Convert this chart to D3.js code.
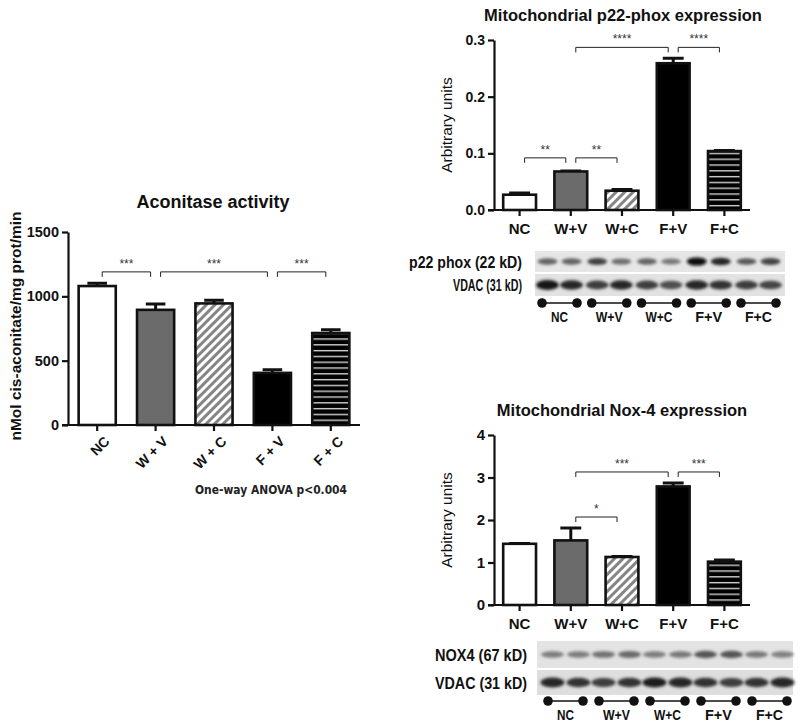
<!DOCTYPE html>
<html>
<head>
<meta charset="utf-8">
<script src="https://cdn.jsdelivr.net/npm/d3@7"></script>
<style>
  body { margin: 0; background: #fff; }
  text { font-family: "Liberation Sans", Arial, sans-serif; fill: #111; }
  .axis path, .axis line { stroke: #111; stroke-width: 2.2px; }
  .axis text { font-weight: bold; font-size: 14px; }
  .bar { stroke: #111; stroke-width: 2.6px; }
  .err { stroke: #111; stroke-width: 3px; fill: none; }
  .bracket { stroke: #222; stroke-width: 1px; fill: none; }
  .stars { font-size: 12px; fill: #333; text-anchor: middle; }
  .title { font-weight: bold; text-anchor: middle; }
</style>
</head>
<body>
<div class="diagram"></div>
<script>
var width = 802, height = 726;

// ---- data ----
var groups = ["NC", "W+V", "W+C", "F+V", "F+C"];
var aconitaseLabels = ["NC", "W + V", "W + C", "F + V", "F + C"];
var aconitaseMean = [1080, 895, 945, 405, 715];
var aconitaseErr = [22, 45, 25, 25, 25];
var aconitaseTicks = [0, 500, 1000, 1500];
var aconitaseSig = [[0, 1, "***", 1190], [1, 3, "***", 1190], [3, 4, "***", 1190]];

var p22Mean = [0.027, 0.068, 0.034, 0.259, 0.104];
var p22Err = [0.003, 0.001, 0.002, 0.009, 0.001];
var p22Ticks = [0, 0.1, 0.2, 0.3];
var p22Sig = [[0, 1, "**", 0.092], [1, 2, "**", 0.092], [1, 3, "****", 0.287], [3, 4, "****", 0.287]];

var nox4Mean = [1.44, 1.52, 1.13, 2.79, 1.02];
var nox4Err = [0.01, 0.29, 0.01, 0.08, 0.04];
var nox4Ticks = [0, 1, 2, 3, 4];
var nox4Sig = [[1, 2, "*", 2.07], [1, 3, "***", 3.13], [3, 4, "***", 3.13]];

// western blot band intensities, 2 lanes per group
var p22Bands = [0.55, 0.55, 0.72, 0.5, 0.55, 0.45, 1.0, 0.85, 0.6, 0.7];
var vdacBands1 = [0.95, 0.85, 0.75, 0.85, 0.75, 0.65, 0.85, 0.8, 0.75, 0.7];
var nox4Bands = [0.42, 0.42, 0.48, 0.52, 0.42, 0.45, 0.62, 0.62, 0.45, 0.4];
var vdacBands2 = [0.85, 0.8, 0.75, 0.8, 0.9, 0.85, 0.8, 0.75, 0.8, 0.85];

var svg = d3.select('.diagram')
  .append('svg')
  .attr('width', width)
  .attr('height', height);

svg.append('rect').attr('width', width).attr('height', height).attr('fill', '#fff');

var defs = svg.append('defs');

var diag = defs.append('pattern')
  .attr('id', 'diag')
  .attr('patternUnits', 'userSpaceOnUse')
  .attr('width', 6).attr('height', 6)
  .attr('patternTransform', 'rotate(45)');
diag.append('rect').attr('width', 6).attr('height', 6).attr('fill', '#fff');
diag.append('rect').attr('width', 3).attr('height', 6).attr('fill', '#858585');

var horiz = defs.append('pattern')
  .attr('id', 'horiz')
  .attr('patternUnits', 'userSpaceOnUse')
  .attr('width', 8).attr('height', 5.8);
horiz.append('rect').attr('width', 8).attr('height', 5.8).attr('fill', '#000');
horiz.append('rect').attr('y', 2).attr('width', 8).attr('height', 1.3).attr('fill', '#e0e0e0');

defs.append('filter').attr('id', 'blur')
  .attr('x', '-30%').attr('y', '-100%').attr('width', '160%').attr('height', '300%')
  .append('feGaussianBlur').attr('stdDeviation', 1.6);

var fills = ['#fff', '#6b6b6b', 'url(#diag)', '#000', 'url(#horiz)'];

function barChart(o) {
  var x = d3.scaleBand().domain(groups).range(o.xr).paddingInner(o.pad).paddingOuter(o.pad / 2);
  var y = d3.scaleLinear().domain([0, o.ticks[o.ticks.length - 1]]).range(o.yr);
  var g = svg.append('g');

  // error bars (upward only)
  groups.forEach(function(k, i) {
    var cx = x(k) + x.bandwidth() / 2, cw = x.bandwidth() * o.cap / 2;
    g.append('path').attr('class', 'err')
      .attr('d', 'M' + cx + ',' + y(o.mean[i]) + 'V' + y(o.mean[i] + o.err[i]) +
        'M' + (cx - cw) + ',' + y(o.mean[i] + o.err[i]) + 'H' + (cx + cw));
  });

  g.selectAll('.bar').data(o.mean).enter().append('rect')
    .attr('class', 'bar')
    .attr('x', function(d, i) { return x(groups[i]) + 1; })
    .attr('width', x.bandwidth() - 2)
    .attr('y', function(d) { return y(d); })
    .attr('height', function(d) { return o.yr[0] - y(d); })
    .attr('fill', function(d, i) { return fills[i]; });

  g.append('g').attr('class', 'axis')
    .attr('transform', 'translate(' + o.xr[0] + ',0)')
    .call(d3.axisLeft(y).tickValues(o.ticks).tickSize(6).tickSizeOuter(0).tickFormat(o.fmt))
    .selectAll('text').style('font-size', o.tickFont + 'px');

  var xa = g.append('g').attr('class', 'axis')
    .attr('transform', 'translate(0,' + o.yr[0] + ')')
    .call(d3.axisBottom(x).tickSize(6).tickSizeOuter(0).tickFormat(function(d, i) { return o.labels[i]; }));
  xa.select('.domain').attr('d', 'M' + (o.xr[0] - 6) + ',0H' + o.xr[1]);
  if (o.rotate) {
    xa.selectAll('text')
      .style('text-anchor', 'end')
      .attr('dx', '-0.2em').attr('dy', '0.9em')
      .attr('transform', 'rotate(-45)')
      .style('font-size', '14px');
  } else {
    xa.selectAll('text').attr('dy', '1.0em').style('font-size', '15px');
  }

  // significance brackets
  o.sig.forEach(function(s) {
    var x1 = x(groups[s[0]]) + x.bandwidth() / 2 + 5;
    var x2 = x(groups[s[1]]) + x.bandwidth() / 2 - 5;
    var yy = y(s[3]);
    g.append('path').attr('class', 'bracket')
      .attr('d', 'M' + x1 + ',' + (yy + 5) + 'V' + yy + 'H' + x2 + 'V' + (yy + 5));
    g.append('text').attr('class', 'stars')
      .attr('x', (x1 + x2) / 2).attr('y', yy - 4).text(s[2]);
  });

  g.append('text').attr('class', 'title')
    .attr('x', o.titleX).attr('y', o.titleY)
    .style('font-size', o.titleSize + 'px')
    .text(o.title);

  g.append('text')
    .attr('transform', 'translate(' + o.ylabX + ',' + o.ylabY + ') rotate(-90)')
    .attr('text-anchor', 'middle')
    .style('font-size', o.ylabSize + 'px')
    .style('font-weight', o.ylabBold ? 'bold' : 'normal')
    .text(o.ylab);
}

barChart({
  mean: aconitaseMean, err: aconitaseErr, ticks: aconitaseTicks, sig: aconitaseSig,
  labels: aconitaseLabels, rotate: true, fmt: d3.format('d'), tickFont: 14.5,
  xr: [68, 360], yr: [425, 232], pad: 0.33, cap: 0.5,
  title: 'Aconitase activity', titleX: 213, titleY: 208, titleSize: 18,
  ylab: 'nMol cis-aconitate/mg prot/min', ylabX: 21, ylabY: 326, ylabSize: 15.5, ylabBold: true
});

barChart({
  mean: p22Mean, err: p22Err, ticks: p22Ticks, sig: p22Sig,
  labels: groups, rotate: false, fmt: d3.format('.1f'), tickFont: 14,
  xr: [494, 750], yr: [210, 40], pad: 0.32, cap: 0.6,
  title: 'Mitochondrial p22-phox expression', titleX: 623, titleY: 21, titleSize: 16.5,
  ylab: 'Arbitrary units', ylabX: 452, ylabY: 125, ylabSize: 15.5, ylabBold: false
});

barChart({
  mean: nox4Mean, err: nox4Err, ticks: nox4Ticks, sig: nox4Sig,
  labels: groups, rotate: false, fmt: d3.format('d'), tickFont: 15,
  xr: [494, 750], yr: [605, 435], pad: 0.32, cap: 0.6,
  title: 'Mitochondrial Nox-4 expression', titleX: 622, titleY: 416, titleSize: 16.5,
  ylab: 'Arbitrary units', ylabX: 452, ylabY: 520, ylabSize: 15.5, ylabBold: false
});

svg.append('text')
  .attr('x', 347).attr('y', 494)
  .attr('text-anchor', 'end')
  .attr('textLength', 152).attr('lengthAdjust', 'spacingAndGlyphs')
  .style('font-family', '"DejaVu Sans", Verdana, sans-serif')
  .style('font-size', '11.5px')
  .style('font-weight', 'bold')
  .style('fill', '#222')
  .text('One-way ANOVA p<0.004');

// ---- western blots ----
function blot(o) {
  var gx = d3.scalePoint().domain(groups).range([o.g0, o.g1]);
  var laneX = function(i) { return gx(groups[Math.floor(i / 2)]) + (i % 2 ? 1 : -1) * o.half; };
  var g = svg.append('g');
  var shade = d3.interpolateRgb('#d0d0d0', '#0a0a0a');

  o.rows.forEach(function(r) {
    g.append('rect')
      .attr('x', o.px0).attr('y', r.y0)
      .attr('width', o.px1 - o.px0).attr('height', r.h)
      .attr('fill', r.bg);
    g.selectAll(null).data(r.bands).enter().append('ellipse')
      .attr('cx', function(d, i) { return laneX(i); })
      .attr('cy', r.y0 + r.h / 2 + (r.dy || 0))
      .attr('rx', r.rx)
      .attr('ry', function(d) { return r.ry * (0.6 + 0.6 * d); })
      .attr('fill', function(d) { return shade(d); })
      .attr('filter', 'url(#blur)');
    g.append('text')
      .attr('x', o.labX).attr('y', r.y0 + r.h / 2 + 6)
      .attr('text-anchor', 'end')
      .attr('textLength', r.labW).attr('lengthAdjust', 'spacingAndGlyphs')
      .style('font-weight', 'bold')
      .style('font-size', o.labSize + 'px')
      .text(r.label);
  });

  groups.forEach(function(k) {
    var c = gx(k), a = c - o.mk, b = c + o.mk;
    g.append('line').attr('x1', a).attr('x2', b).attr('y1', o.mkY).attr('y2', o.mkY)
      .attr('stroke', '#111').attr('stroke-width', 1.5);
    [a, b].forEach(function(p) {
      g.append('circle').attr('cx', p).attr('cy', o.mkY).attr('r', 4.8).attr('fill', '#111');
    });
    g.append('text')
      .attr('x', c).attr('y', o.mkY + 19)
      .attr('text-anchor', 'middle')
      .attr('textLength', k === 'NC' ? 17 : 27).attr('lengthAdjust', 'spacingAndGlyphs')
      .style('font-weight', 'bold')
      .style('font-size', '14px')
      .text(k);
  });
}

blot({
  g0: 559.5, g1: 758.5, half: 12, px0: 535, px1: 785, labX: 522, labSize: 16,
  mk: 17.5, mkY: 303,
  rows: [
    { y0: 251, h: 21, bg: '#e6e6e6', bands: p22Bands, rx: 10, ry: 3.4, label: 'p22 phox (22 kD)', labW: 113 },
    { y0: 274, h: 22, bg: '#e2e2e2', bands: vdacBands1, rx: 11.5, ry: 4.2, label: 'VDAC (31 kD)', labW: 69 }
  ]
});

blot({
  g0: 565.5, g1: 769.5, half: 13, px0: 537, px1: 793, labX: 527, labSize: 17,
  mk: 17.5, mkY: 701,
  rows: [
    { y0: 641, h: 27, bg: '#e3e3e3', bands: nox4Bands, rx: 11.5, ry: 3.8, label: 'NOX4 (67 kD)', labW: 92 },
    { y0: 670, h: 25, bg: '#dedede', bands: vdacBands2, rx: 12, ry: 4.4, label: 'VDAC (31 kD)', labW: 92 }
  ]
});
</script>
</body>
</html>
